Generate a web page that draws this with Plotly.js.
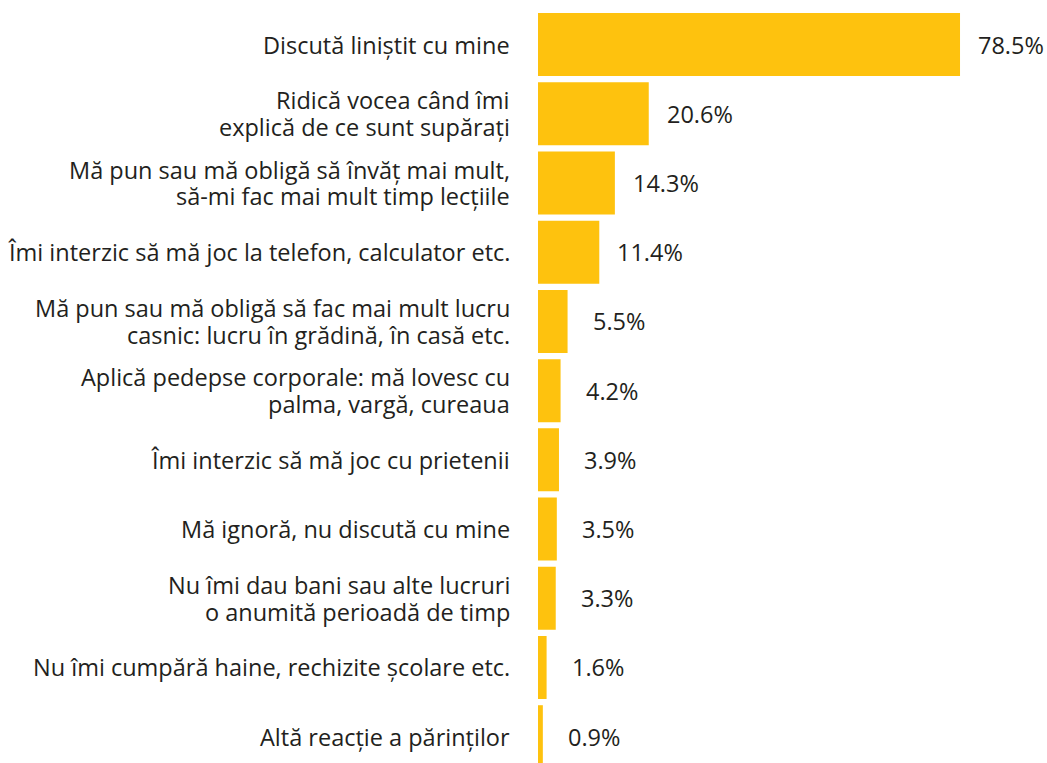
<!DOCTYPE html>
<html>
<head>
<meta charset="utf-8">
<script src="https://cdn.plot.ly/plotly-3.0.1.min.js"></script>
<style>html,body{margin:0;padding:0;background:#fff;}#chart{width:1047px;height:763px;}</style>
</head>
<body>
<div id="chart"></div>
<script>
var categories = [
  "Discută liniștit cu mine",
  "Ridică vocea când îmi<br>explică de ce sunt supărați",
  "Mă pun sau mă obligă să învăț mai mult,<br>să-mi fac mai mult timp lecțiile",
  "Îmi interzic să mă joc la telefon, calculator etc.",
  "Mă pun sau mă obligă să fac mai mult lucru<br>casnic: lucru în grădină, în casă etc.",
  "Aplică pedepse corporale: mă lovesc cu<br>palma, vargă, cureaua",
  "Îmi interzic să mă joc cu prietenii",
  "Mă ignoră, nu discută cu mine",
  "Nu îmi dau bani sau alte lucruri<br>o anumită perioadă de timp",
  "Nu îmi cumpără haine, rechizite școlare etc.",
  "Altă reacție a părinților"
];
var values = [78.5, 20.6, 14.3, 11.4, 5.5, 4.2, 3.9, 3.5, 3.3, 1.6, 0.9];
var valueLabels = values.map(function(v){ return v.toFixed(1) + "%"; });

var font = {family: "Open Sans, sans-serif", size: 23.5, color: "#231f20"};
var lineGap = 26.7;

var trace = {
  type: "bar",
  orientation: "h",
  x: values,
  y: categories,
  width: 0.91,
  marker: {color: "#FEC20E"},
  hoverinfo: "none"
};

var annotations = values.map(function(v, i){
  return {
    x: v, y: categories[i], xref: "x", yref: "y",
    text: valueLabels[i], showarrow: false,
    xanchor: "center", yanchor: "middle", xshift: 51,
    font: font
  };
});

categories.forEach(function(c){
  var lines = c.split("<br>");
  var n = lines.length;
  lines.forEach(function(line, k){
    annotations.push({
      x: 0, y: c, xref: "x", yref: "y",
      text: line, showarrow: false,
      xanchor: "right", yanchor: "middle", xshift: -26,
      yshift: ((n - 1) / 2 - k) * lineGap,
      font: font
    });
  });
});

var layout = {
  width: 1047, height: 763,
  margin: {l: 538, r: 0, t: 10, b: 0},
  paper_bgcolor: "#fff", plot_bgcolor: "#fff",
  showlegend: false,
  font: font,
  xaxis: {range: [0, 94.68], visible: false, fixedrange: true},
  yaxis: {
    type: "category",
    range: [10.38, -0.5],
    showgrid: false, zeroline: false, showline: false,
    showticklabels: false, ticks: "", automargin: false
  },
  annotations: annotations
};

Plotly.newPlot("chart", [trace], layout, {displayModeBar: false, staticPlot: true});
</script>
</body>
</html>
